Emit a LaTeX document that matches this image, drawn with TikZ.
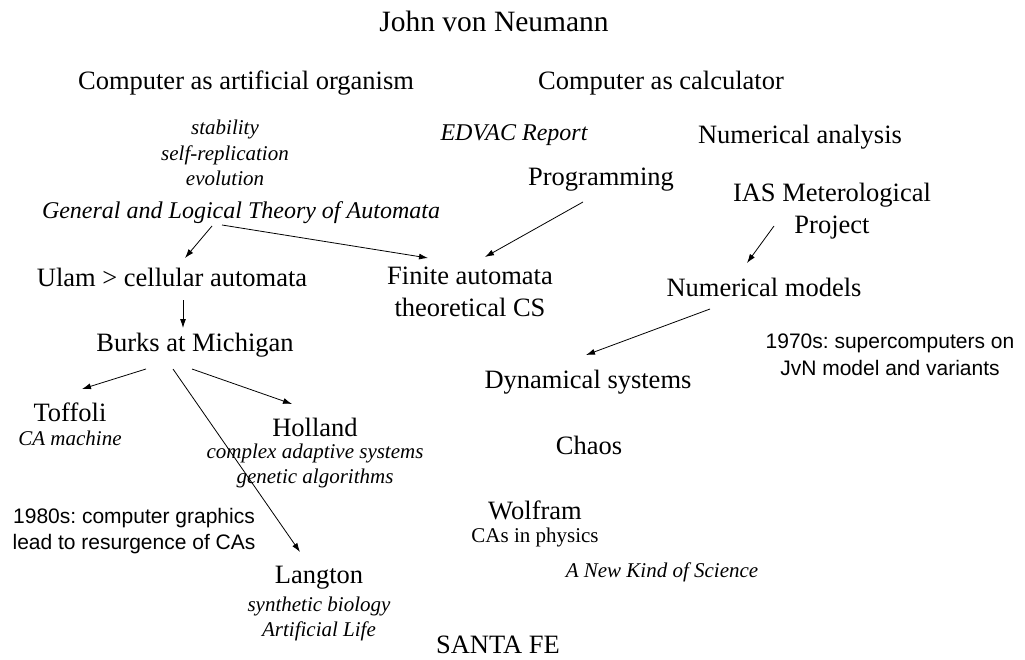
\documentclass[tikz,border=0pt]{standalone}
\usepackage{fontspec}
\setmainfont{Liberation Serif}
\setsansfont{Liberation Sans}
\usetikzlibrary{arrows.meta,calc}

\newcommand{\sz}[2]{\fontsize{#1}{#2}\selectfont}

\begin{document}
\frenchspacing
\begin{tikzpicture}[x=1pt,y=-1pt,
    titletext/.style={font=\sz{29.5}{35}},
    topic/.style={font=\sz{26.5}{31.5}},
    book/.style={font=\itshape\sz{24}{28}},
    detail/.style={font=\itshape\sz{21}{25.5}},
    detailrm/.style={font=\sz{21}{25.5}},
    comment/.style={font=\sffamily\sz{21}{26.5}}]
   \useasboundingbox (0,0) rectangle (1025,660);
   \begin{scope}[every node/.style={inner sep=0pt,align=center}]
    \node[titletext] (jvn) at (494,21) {John von Neumann};
    \node[topic] (organism) at (246,83) {Computer as artificial organism};
    \node[topic] (calculator) at (661,83) {Computer as calculator};
    \node[detail] (traits) at (225,153) {stability\\self-replication\\evolution};
    \node[book] (theory) at (241,213) {General and Logical Theory of Automata};
    \node[book] (edvac) at (514,135) {EDVAC Report};
    \node[topic] (numan) at (800,137) {Numerical analysis};
    \node[topic] (prog) at (601,180) {Programming};
    \node[topic] (ias) at (832,211) {IAS Meterological\\Project};
    \node[topic] (ulam) at (172,277) {Ulam > cellular automata};
    \node[topic] (finite) at (470,292) {Finite automata\\theoretical CS};
    \node[topic] (nummod) at (764,287) {Numerical models};
    \node[comment] (super) at (890,355) {1970s: supercomputers on\\JvN model and variants};
    \node[topic] (burks) at (195,345) {Burks at Michigan};
    \node[topic] (dyn) at (588,382) {Dynamical systems};
    \node[topic] (toffoli) at (70,412) {Toffoli};
    \node[detail] (camachine) at (70,438) {CA machine};
    \node[topic] (holland) at (315,427) {Holland};
    \node[detail] (hollandsub) at (315,466) {complex adaptive systems\\genetic algorithms};
    \node[topic] (chaos) at (589,445) {Chaos};
    \node[comment] (graphics) at (134,531) {1980s: computer graphics\\lead to resurgence of CAs};
    \node[topic] (wolfram) at (535,510) {Wolfram};
    \node[detailrm] (caphys) at (535,537) {CAs in physics};
    \node[detail] (nks) at (662,572) {A New Kind of Science};
    \node[topic] (langton) at (319,578) {Langton};
    \node[detail] (langtonsub) at (319,619) {synthetic biology\\Artificial Life};
    \node[topic] (santafe) at (498,645) {SANTA FE};
   \end{scope}
   \begin{scope}[every edge/.style={draw=black,line width=0.8pt,-{Latex[length=9pt,width=6pt]}}]
    \draw ($(theory)+(-29,13)$) edge ($(ulam)+(13,-19)$);
    \draw ($(theory)+(-19,12)$) edge ($(finite)+(-42,-34)$);
    \draw ($(prog)+(-18,22)$) edge ($(finite)+(15,-35)$);
    \draw ($(ias)+(-58,15)$) edge ($(nummod)+(-17,-24)$);
    \draw ($(nummod)+(-54,22)$) edge ($(dyn)+(-2,-27)$);
    \draw ($(ulam)+(11,23)$) edge ($(burks)+(-12,-17)$);
    \draw ($(burks)+(-49,24)$) edge ($(toffoli)+(12,-23)$);
    \draw ($(burks)+(-3,24)$) edge ($(holland)+(-23,-23)$);
    \draw ($(burks)+(-22,24)$) edge ($(langton)+(-19,-26)$);
   \end{scope}
\end{tikzpicture}
\end{document}
